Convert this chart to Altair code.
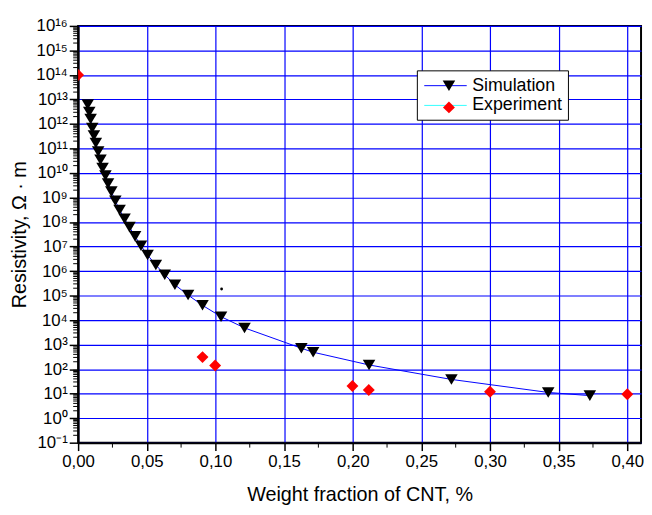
import json
import altair as alt
import pandas as pd

FONT = "Liberation Sans, Arial, sans-serif"

# ---- data ----
series_names = ["Simulation", "Experiment"]

sim_x = [0.0070, 0.0081, 0.0091, 0.0103, 0.0115, 0.0129, 0.0146, 0.0163, 0.0178, 0.0199,
         0.0218, 0.0242, 0.0271, 0.0302, 0.0338, 0.0374, 0.0415, 0.0458, 0.0506, 0.0566,
         0.0631, 0.0705, 0.0801, 0.0906, 0.1041, 0.1212, 0.1626, 0.1712, 0.2119, 0.2719,
         0.3424, 0.3727]
sim_y = [6.2e12, 3.1e12, 1.6e12, 6.9e11, 3.4e11, 1.66e11, 7.6e10, 3.5e10, 1.6e10, 7.9e9,
         3.7e9, 1.74e9, 7.4e8, 3.1e8, 1.35e8, 6.2e7, 2.6e7, 1.07e7, 4.5e6, 1.78e6,
         7.1e5, 2.75e5, 1.05e5, 4.0e4, 1.38e4, 4.8e3, 710, 490, 148, 38,
         11.2, 8.3]

exp_x = [0.0, 0.0906, 0.0998, 0.1998, 0.2117, 0.300, 0.400]
exp_y = [1e14, 310, 141, 20.4, 14.1, 12.0, 9.5]

stray_x = [0.1045]
stray_y = [1.86e5]

x_ticks = [0.0, 0.05, 0.10, 0.15, 0.20, 0.25, 0.30, 0.35, 0.40]
x_tick_labels = ["0,00", "0,05", "0,10", "0,15", "0,20", "0,25", "0,30", "0,35", "0,40"]
x_minor = [0.025, 0.075, 0.125, 0.175, 0.225, 0.275, 0.325, 0.375]

y_exponents = list(range(-1, 17))
y_tick_labels = ["10⁻¹", "10⁰", "10¹", "10²", "10³", "10⁴", "10⁵", "10⁶", "10⁷", "10⁸",
                 "10⁹", "10¹⁰", "10¹¹", "10¹²", "10¹³", "10¹⁴", "10¹⁵", "10¹⁶"]
y_ticks = [10.0 ** e for e in y_exponents]
y_minor = [m * 10.0 ** e for e in range(-1, 16) for m in range(2, 10)]

# ---- tables ----
line_names = [n + " " for n in series_names]  # separate legend domain for the line key
sim_df = pd.DataFrame({"x": sim_x, "y": sim_y, "series": series_names[0]})
line_df = pd.DataFrame({"x": sim_x, "y": sim_y, "line_series": line_names[0]})
exp_df = pd.DataFrame({"x": exp_x, "y": exp_y, "series": series_names[1]})
pts_df = pd.concat([sim_df, exp_df], ignore_index=True)
stray_df = pd.DataFrame({"x": stray_x, "y": stray_y})
ymin_df = pd.DataFrame({"v": y_minor})
xmin_df = pd.DataFrame({"v": x_minor})

W, H = 570, 422

x_scale = alt.Scale(domain=[0, 0.41], nice=False, zero=False)
y_scale = alt.Scale(type="log", domain=[1e-1, 1e16], nice=False)

x_axis = alt.Axis(
    values=x_ticks,
    labelExpr=json.dumps(x_tick_labels, ensure_ascii=False) + "[round(datum.value/0.05)]",
    title="Weight fraction of CNT, %",
    grid=True, gridColor="#0000ff", gridWidth=1.2,
    domainColor="black", domainWidth=2,
    tickColor="black", tickWidth=1.5, tickSize=8,
    labelFont=FONT, labelFontSize=17, labelColor="black", labelPadding=3,
    labelOverlap=False, labelFlush=False,
    titleFont=FONT, titleFontSize=20, titleFontWeight="normal", titleColor="black",
    titlePadding=16,
)
y_axis = alt.Axis(
    values=y_ticks,
    labelExpr=json.dumps(y_tick_labels, ensure_ascii=False) + "[round(log(datum.value)/LN10)+1]",
    title="Resistivity, Ω · m",
    grid=True, gridColor="#0000ff", gridWidth=1.2,
    domainColor="black", domainWidth=2,
    tickColor="black", tickWidth=1.5, tickSize=9,
    labelFont=FONT, labelFontSize=17, labelColor="black", labelPadding=2,
    labelOverlap=False, labelFlush=False,
    titleFont=FONT, titleFontSize=20, titleFontWeight="normal", titleColor="black",
    titlePadding=6,
)

tri_path = "M-1,-0.84L1,-0.84L0,0.84Z"
dia_path = "M0,-0.95L0.95,0L0,0.95L-0.95,0Z"
key_line_path = "M-0.8,0H3.5"

line = alt.Chart(line_df).mark_line(strokeWidth=1).encode(
    x=alt.X("x:Q", scale=x_scale, axis=x_axis),
    y=alt.Y("y:Q", scale=y_scale, axis=y_axis),
    stroke=alt.Stroke(
        "line_series:N",
        scale=alt.Scale(domain=line_names, range=["#0000ff", "#33ffff"]),
        legend=alt.Legend(
            title=None, orient="none", legendX=343, legendY=45,
            symbolType=key_line_path, symbolSize=400, symbolStrokeWidth=1,
            labelFont=FONT, labelFontSize=18, labelColor="black", labelOffset=30,
            padding=5, rowPadding=0, strokeColor="black", fillColor="white",
            zindex=1,
        ),
    ),
)

pt_legend = alt.Legend(
    title=None, orient="none", legendX=360, legendY=45,
    labelExpr="''", labelFontSize=21, labelOffset=0,
    padding=5, rowPadding=0, symbolSize=161, symbolOpacity=1, symbolStrokeWidth=0, zindex=2,
)

points = alt.Chart(pts_df).mark_point(filled=True, opacity=1, strokeWidth=0, size=161, clip=True).encode(
    x=alt.X("x:Q", scale=x_scale, axis=x_axis),
    y=alt.Y("y:Q", scale=y_scale, axis=y_axis),
    shape=alt.Shape("series:N", scale=alt.Scale(domain=series_names, range=[tri_path, dia_path]),
                    legend=pt_legend),
    fill=alt.Fill("series:N", scale=alt.Scale(domain=series_names, range=["#000000", "#ff0000"]),
                  legend=pt_legend),
)

stray = alt.Chart(stray_df).mark_circle(size=8, color="black", opacity=1).encode(
    x=alt.X("x:Q", scale=x_scale, axis=x_axis),
    y=alt.Y("y:Q", scale=y_scale, axis=y_axis),
)

y_minor_ticks = alt.Chart(ymin_df).mark_rule(color="black", strokeWidth=1).encode(
    y=alt.Y("v:Q", scale=y_scale, axis=y_axis),
    x=alt.value(-5), x2=alt.value(0),
)
x_minor_ticks = alt.Chart(xmin_df).mark_rule(color="black", strokeWidth=1).encode(
    x=alt.X("v:Q", scale=x_scale, axis=x_axis),
    y=alt.value(H), y2=alt.value(H + 5),
)

chart = alt.layer(line, stray, points, y_minor_ticks, x_minor_ticks).properties(
    width=W, height=H,
    padding={"left": 2, "top": 6, "right": 0, "bottom": 0},
    background="white",
).configure_view(stroke="black", strokeWidth=2)

chart.save("out.html", embed_options={"renderer": "svg", "actions": False})
